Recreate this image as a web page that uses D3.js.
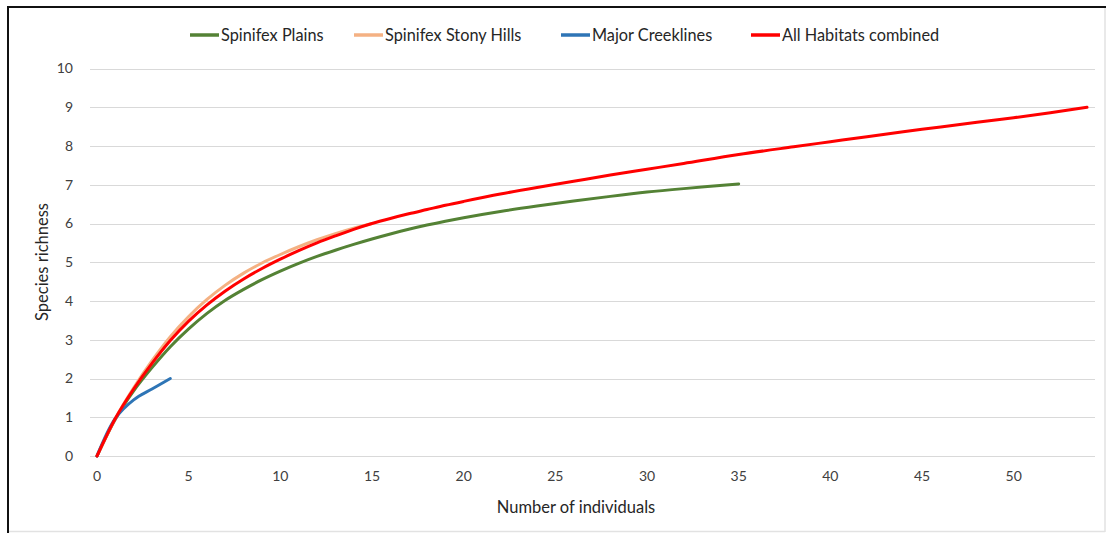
<!DOCTYPE html>
<html><head><meta charset="utf-8">
<script src="https://cdn.jsdelivr.net/npm/d3@7"></script>
<style>
body{margin:0;background:#fff}
svg{display:block}
text{font-family:Lato,"Open Sans",sans-serif}
</style>
</head><body>
<svg id="c" width="1112" height="533"></svg>
<script>
// ---- data ----
const seriesNames = ["Spinifex Plains", "Spinifex Stony Hills", "Major Creeklines", "All Habitats combined"];
const seriesColors = ["#548235", "#F4B183", "#2E75B6", "#FF0000"];

const plainsX = [0,1,2,3,4,5,6,7,8,9,10,11,12,13,14,15,16,17,18,19,20,22,24,26,28,30,32,35];
const plainsY = [0,0.95,1.68,2.28,2.82,3.28,3.68,4.02,4.3,4.55,4.77,4.97,5.15,5.31,5.46,5.6,5.73,5.85,5.96,6.06,6.15,6.31,6.45,6.58,6.7,6.81,6.9,7.02];

const hillsX = [0,1,2,3,4,5,6,7,8,9,10,11,12,13,14,15];
const hillsY = [0,0.97,1.76,2.46,3.08,3.6,4.04,4.41,4.72,4.98,5.2,5.4,5.58,5.74,5.88,6.0];

const creekX = [0,1,2,3,4];
const creekY = [0,0.97,1.45,1.73,2.0];

const allX = [0,1,2,3,4,5,6,7,8,9,10,11,12,13,14,15,16,17,18,19,20,22,24,26,28,30,32,35,38,40,42,45,48,50,52,54];
const allY = [0,0.97,1.73,2.39,2.98,3.48,3.9,4.26,4.57,4.84,5.08,5.3,5.5,5.68,5.85,6.0,6.13,6.25,6.36,6.47,6.57,6.76,6.93,7.09,7.25,7.4,7.55,7.78,7.98,8.11,8.24,8.43,8.61,8.73,8.86,9.0];

const xTicks = [0,5,10,15,20,25,30,35,40,45,50];
const yTicks = [0,1,2,3,4,5,6,7,8,9,10];
const xTitle = "Number of individuals";
const yTitle = "Species richness";

// ---- layout ----
const svg = d3.select("#c");
const plotL = 90, plotR = 1095;
const x = d3.scaleLinear().domain([0, 54]).range([97, 1087]);
const y = d3.scaleLinear().domain([0, 10]).range([456, 68.5]);

// frame
svg.append("line").attr("x1",1105).attr("x2",1105).attr("y1",7).attr("y2",532).attr("stroke","#e2e2e2").attr("stroke-width",1.5);
svg.append("line").attr("x1",8).attr("x2",1105).attr("y1",531.5).attr("y2",531.5).attr("stroke","#e2e2e2").attr("stroke-width",1.5);
svg.append("line").attr("x1",8).attr("x2",8).attr("y1",6).attr("y2",533).attr("stroke","#111").attr("stroke-width",2);
svg.append("line").attr("x1",7).attr("x2",1106).attr("y1",7).attr("y2",7).attr("stroke","#111").attr("stroke-width",2);

// gridlines
svg.append("g").selectAll("line").data(yTicks).join("line")
  .attr("x1", plotL).attr("x2", plotR)
  .attr("y1", d => Math.round(y(d)) + 0.5).attr("y2", d => Math.round(y(d)) + 0.5)
  .attr("stroke", "#d9d9d9").attr("stroke-width", 1);

// y tick labels
svg.append("g").selectAll("text").data(yTicks).join("text")
  .attr("x", 73).attr("y", d => y(d)).attr("dy", "0.35em")
  .attr("text-anchor", "end").attr("fill", "#404040").attr("font-size", 14)
  .text(d => d);

// x tick labels
svg.append("g").selectAll("text").data(xTicks).join("text")
  .attr("x", d => x(d)).attr("y", 476).attr("dy", "0.35em")
  .attr("text-anchor", "middle").attr("fill", "#404040").attr("font-size", 14)
  .text(d => d);

// axis titles
svg.append("text").attr("x", 576).attr("y", 507).attr("dy", "0.35em")
  .attr("text-anchor", "middle").attr("fill", "#262626").attr("font-size", 16.5).text(xTitle);
svg.append("text").attr("transform", "translate(42,262) rotate(-90)").attr("dy", "0.35em")
  .attr("text-anchor", "middle").attr("fill", "#262626").attr("font-size", 16.5).text(yTitle);

// series
const series = [
  {name: seriesNames[0], color: seriesColors[0], xs: plainsX, ys: plainsY, w: 3},
  {name: seriesNames[1], color: seriesColors[1], xs: hillsX, ys: hillsY, w: 3},
  {name: seriesNames[2], color: seriesColors[2], xs: creekX, ys: creekY, w: 3},
  {name: seriesNames[3], color: seriesColors[3], xs: allX, ys: allY, w: 3}
];
const line = d3.line().x(d => x(d[0])).y(d => y(d[1])).curve(d3.curveCatmullRom.alpha(0.5));
svg.append("g").selectAll("path").data(series).join("path")
  .attr("d", s => line(s.xs.map((v, i) => [v, s.ys[i]])))
  .attr("fill", "none").attr("stroke", s => s.color).attr("stroke-width", s => s.w)
  .attr("stroke-linecap", "round").attr("stroke-linejoin", "round");

// legend
const legendStarts = [190, 354, 561, 751];
const lg = svg.append("g").selectAll("g").data(series).join("g")
  .attr("transform", (s, i) => `translate(${legendStarts[i]},35)`);
lg.append("line").attr("x1", 0).attr("x2", 29).attr("y1", 0).attr("y2", 0)
  .attr("stroke", s => s.color).attr("stroke-width", 3.5);
lg.append("text").attr("x", 31).attr("y", 0).attr("dy", "0.35em")
  .attr("fill", "#262626").attr("font-size", 16.3).text(s => s.name);
</script>
</body></html>
